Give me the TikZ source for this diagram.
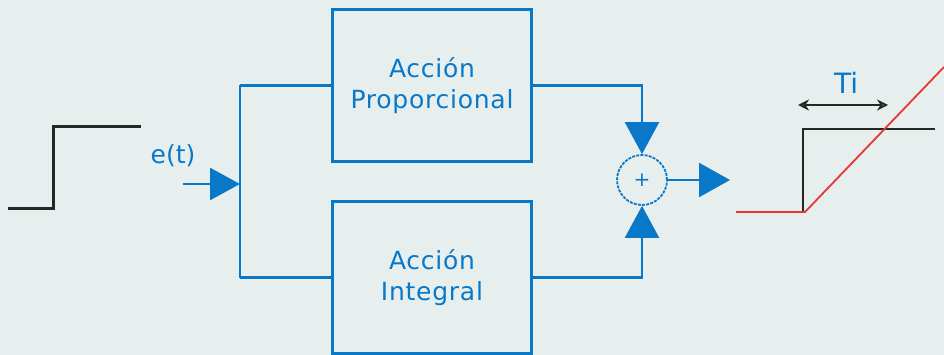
\documentclass[tikz,border=0pt]{standalone}
\usepackage{fontspec}
\setmainfont{DejaVu Sans}
\newfontfamily\boxfont[LetterSpace=3]{DejaVu Sans}
\usetikzlibrary{arrows.meta}
\definecolor{bg}{HTML}{E6EEEE}
\definecolor{cblue}{HTML}{0A78C8}
\definecolor{cred}{HTML}{E8372E}
\definecolor{cblack}{HTML}{262626}
\tikzset{
  blockbox/.style={draw=cblue, line width=2.6pt, minimum width=199pt, minimum height=152pt,
    inner sep=0pt, align=center, text=cblue, font=\boxfont\fontsize{25}{31}\selectfont},
  wire/.style={draw=cblue, line width=2.6pt},
  bigtip/.style={-{Triangle[length=30pt,width=32pt]}, cblue, line width=2.6pt},
  label/.style={text=cblue, inner sep=0pt},
  sig/.style={cblack, line width=3pt},
  ramp/.style={cred, line width=1.8pt},
}
\begin{document}
\begin{tikzpicture}[x=1pt,y=-1pt]
\fill[bg] (0,0) rectangle (944,355);
\useasboundingbox (0,0) rectangle (944,355);

% input step
\coordinate (s0) at (8,209);
\coordinate (s1) at (53,209);
\coordinate (s2) at (53,127);
\coordinate (s3) at (141,127);
\draw[sig] (s0) -- (s1) -- (s2) -- (s3);

\node[label, font=\fontsize{25}{28}\selectfont] (et) at (173,156) {e(t)};

% blocks
\node[blockbox] (P) at (432,85.5) {Acción\\Proporcional};
\node[blockbox] (I) at (432,277.5) {Acción\\Integral};

% split
\coordinate (in) at (183,184);
\coordinate (split) at (240,184);
\coordinate (top) at (240,85.5);
\coordinate (bot) at (240,277.5);
\draw[bigtip] (in) -- (split);
\draw[wire] (top) -- (bot);
\draw[wire] (top) -- (P.west);
\draw[wire] (bot) -- (I.west);

% summing junction
\node[circle, draw=cblue, line width=1.8pt, dash pattern=on 3pt off 1.2pt,
      minimum size=50pt, inner sep=0pt, text=cblue, font=\fontsize{20}{20}\selectfont] (sum) at (642,180) {+};
\draw[wire, -{Triangle[length=32pt,width=34pt]}] (P.east) -| (sum.north);
\draw[wire, -{Triangle[length=32pt,width=34pt]}] (I.east) -| (sum.south);
\coordinate (out) at (730,180);
\draw[wire, -{Triangle[length=31pt,width=34pt]}] (sum.east) -- (out);

% output graph
\coordinate (r0) at (736,212);
\coordinate (r1) at (805,212);
\coordinate (r2) at (944,67);
\coordinate (b0) at (803,212);
\coordinate (b1) at (803,129);
\coordinate (b2) at (935,129);
\draw[sig, line width=2.6pt] (b0) -- (b1) -- (b2);
\draw[ramp] (r0) -- (r1) -- (r2);
\coordinate (ta) at (798,105);
\coordinate (tb) at (888,105);
\draw[cblack, line width=1.8pt, {Stealth[length=11pt,width=11pt,open]}-{Stealth[length=11pt,width=11pt,open]}] (ta) -- (tb);
\node[label, font=\fontsize{28}{30}\selectfont] (ti) at (846,83) {Ti};
\end{tikzpicture}
\end{document}
